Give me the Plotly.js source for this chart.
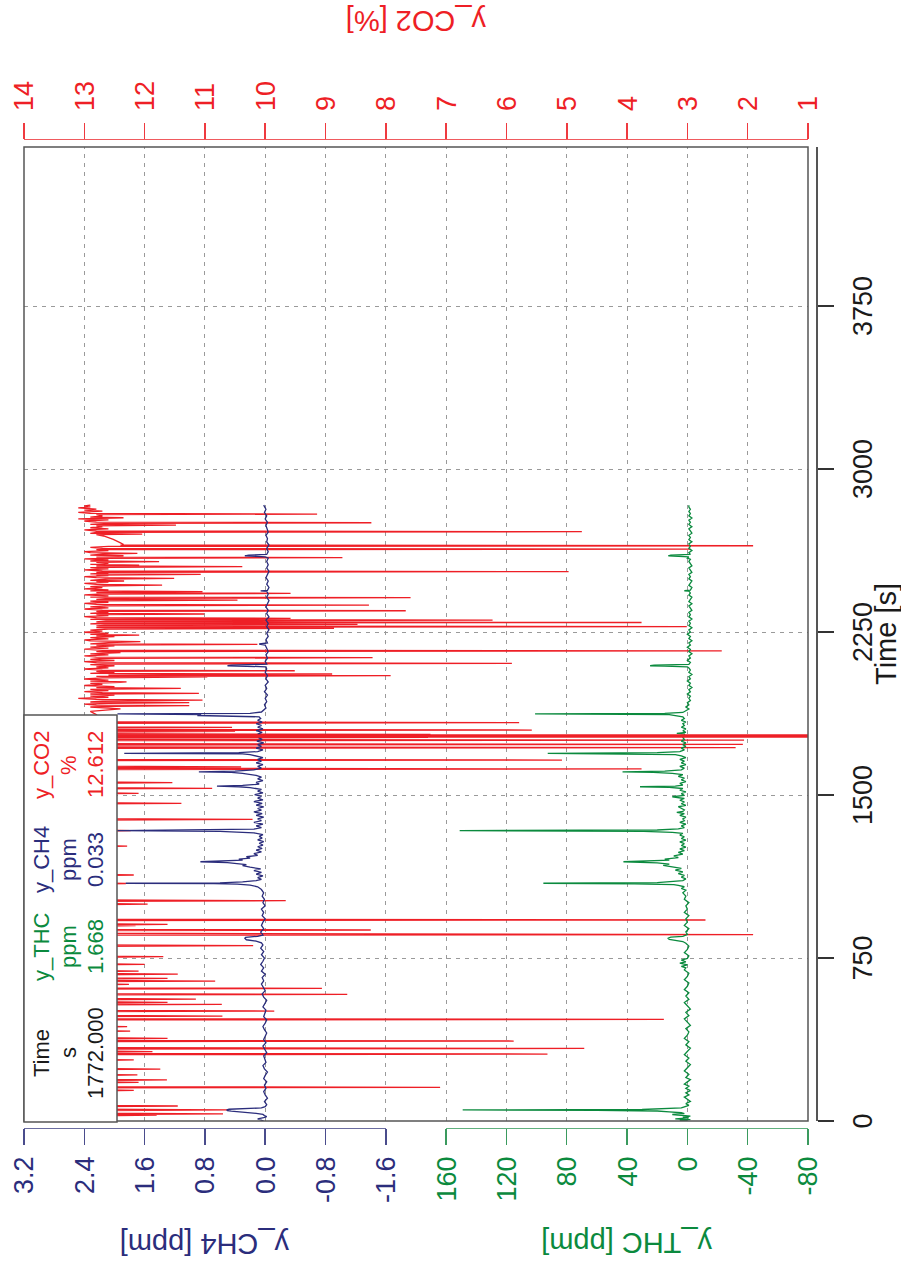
<!DOCTYPE html>
<html><head><meta charset="utf-8">
<script src="https://cdn.plot.ly/plotly-3.0.1.min.js"></script>
<style>
html,body{margin:0;padding:0;width:901px;height:1268px;overflow:hidden;background:#fff;}
#chart{position:absolute;left:0;top:0;width:1268px;height:901px;transform-origin:0 0;transform:translateY(1268px) rotate(-90deg);}
</style></head><body><div id="chart"></div>
<script>
// ---------------- data (time [s], value) ----------------
const co2Points = [[0,12.8],[6,13.0],[12,12.7],[18,12.9],[24,12.8],[27,11.8],[30,12.9],[33,10.7],[36,12.8],[42,12.9],[48,12.7],[51,10.6],[54,12.8],[60,12.9],[66,12.8],[69,11.45],[72,12.9],[80,12.7],[90,12.9],[100,12.8],[110,12.9],[120,12.7],[130,12.8],[138,12.9],[141,12.18],[144,12.8],[152,12.9],[155,7.1],[158,12.8],[166,12.9],[175,12.8],[178,12.1],[181,12.9],[186,12.8],[189,11.63],[192,12.8],[200,12.9],[209,12.8],[212,12.12],[215,12.9],[225,12.7],[236,12.8],[239,11.74],[242,12.9],[255,12.8],[265,12.9],[278,12.8],[281,12.18],[284,12.9],[295,12.8],[305,12.9],[308,5.32],[311,12.8],[316,12.9],[319,11.87],[322,12.8],[331,12.9],[334,4.71],[337,12.8],[350,12.9],[365,12.8],[368,5.88],[371,12.7],[377,12.9],[380,11.62],[383,12.8],[395,12.9],[405,12.7],[411,12.8],[414,12.24],[417,12.9],[425,12.8],[431,12.9],[434,12.29],[437,12.8],[450,12.9],[465,12.8],[468,3.39],[471,12.7],[480,12.9],[483,10.71],[486,12.8],[495,12.9],[503,12.8],[506,9.85],[509,12.9],[520,12.7],[534,12.8],[537,10.72],[540,12.9],[543,12.8],[546,11.62],[549,12.9],[558,12.8],[561,11.15],[564,12.9],[572,12.7],[580,12.8],[583,8.64],[586,12.9],[595,12.8],[607,12.9],[610,9.06],[613,12.8],[620,12.9],[626,12.8],[629,12.26],[632,12.9],[641,12.8],[644,10.83],[647,12.9],[653,12.8],[656,11.62],[659,12.9],[668,12.7],[673,12.8],[676,11.45],[679,12.9],[687,12.8],[690,12.1],[693,12.9],[705,12.8],[718,12.9],[721,12.0],[724,12.8],[740,12.9],[753,12.8],[756,11.69],[759,12.9],[780,12.8],[795,12.9],[804,12.8],[807,10.2],[810,12.9],[825,12.8],[840,12.9],[855,12.8],[858,1.91],[861,6.26],[864,12.8],[873,12.9],[876,12.8],[879,8.25],[882,12.9],[892,12.8],[896,12.9],[899,12.15],[902,12.8],[905,11.62],[908,12.9],[918,12.8],[922,12.9],[925,2.70],[928,12.8],[945,12.9],[960,12.8],[975,12.9],[990,12.8],[995,12.9],[998,11.95],[1001,12.8],[1011,12.9],[1014,9.66],[1017,12.8],[1030,12.9],[1045,12.8],[1060,12.9],[1075,12.8],[1090,12.9],[1093,12.31],[1096,12.8],[1110,12.9],[1125,12.8],[1129,12.9],[1132,12.18],[1135,12.8],[1150,12.9],[1170,12.8],[1190,12.9],[1210,12.8],[1230,12.9],[1250,12.8],[1262,12.9],[1265,12.29],[1268,12.8],[1290,12.9],[1310,12.8],[1333,12.9],[1336,12.23],[1339,12.8],[1360,12.9],[1385,12.8],[1388,10.21],[1391,12.9],[1410,12.8],[1435,12.9],[1459,12.8],[1462,11.39],[1465,12.9],[1485,12.8],[1505,12.9],[1508,12.1],[1511,12.8],[1528,12.9],[1531,10.88],[1534,12.8],[1554,12.9],[1557,11.54],[1560,12.8],[1590,12.9],[1617,12.8],[1620,3.76],[1623,12.9],[1627,12.8],[1630,10.4],[1633,12.9],[1645,12.8],[1658,12.9],[1661,5.08],[1664,12.8],[1690,12.9],[1715,12.8],[1718,2.2],[1721,12.9],[1730,12.8],[1733,2.08],[1736,12.9],[1750,12.8],[1753,2.06],[1756,12.9],[1762,12.8],[1765,7.3],[1768,12.7],[1772,12.612],[1776,12.8],[1779,7.26],[1782,12.9],[1790,12.8],[1793,10.5],[1796,12.9],[1799,5.58],[1802,12.8],[1808,12.9],[1811,10.55],[1814,12.8],[1830,12.9],[1833,5.79],[1836,12.8],[1850,12.9],[1870,12.8],[1885,12.9],[1896,12.4],[1900,12.6],[1905,12.9],[1908,12.5],[1911,11.26],[1914,12.8],[1918,13.0],[1922,12.6],[1925,11.26],[1928,12.9],[1932,12.7],[1937,11.04],[1940,12.8],[1945,13.1],[1950,12.6],[1955,12.9],[1960,12.5],[1965,12.9],[1968,11.1],[1971,12.7],[1976,13.0],[1981,12.6],[1986,12.9],[1991,11.4],[1994,12.8],[1999,12.5],[2004,13.0],[2009,12.7],[2014,12.9],[2018,12.4],[2021,12.3],[2024,12.9],[2029,12.6],[2034,13.0],[2039,12.7],[2044,10.96],[2046,12.8],[2049,7.92],[2052,12.6],[2057,8.89],[2060,12.9],[2065,12.5],[2069,12.8],[2072,9.51],[2075,12.7],[2080,13.0],[2085,12.6],[2090,12.8],[2095,12.5],[2100,12.9],[2103,12.6],[2106,5.91],[2109,12.8],[2114,13.0],[2119,12.5],[2124,12.9],[2129,12.7],[2132,8.22],[2135,12.8],[2140,13.0],[2145,12.6],[2150,12.9],[2155,12.4],[2160,12.8],[2163,2.43],[2166,12.7],[2171,13.0],[2176,12.6],[2181,12.9],[2186,12.5],[2190,12.8],[2193,10.13],[2196,12.9],[2201,12.6],[2206,12.07],[2209,12.9],[2214,13.0],[2219,12.6],[2224,12.9],[2229,12.5],[2233,12.8],[2236,12.09],[2239,12.9],[2244,12.6],[2249,13.0],[2254,12.7],[2259,12.9],[2264,12.6],[2267,8.86],[2270,12.8],[2272,12.7],[2275,3.01],[2278,12.8],[2282,12.6],[2285,8.47],[2288,12.9],[2291,12.7],[2294,3.76],[2297,12.8],[2302,12.6],[2305,6.23],[2308,12.9],[2310,12.7],[2313,9.58],[2316,12.8],[2321,13.0],[2326,12.6],[2330,12.8],[2333,11.01],[2336,12.9],[2341,12.6],[2345,12.8],[2348,7.67],[2351,12.7],[2356,13.0],[2361,12.6],[2366,12.9],[2371,12.6],[2374,8.28],[2377,12.8],[2382,13.0],[2387,12.6],[2392,12.9],[2394,12.7],[2397,10.46],[2400,12.8],[2405,12.6],[2408,7.59],[2411,12.9],[2416,12.6],[2421,13.0],[2425,12.7],[2428,9.58],[2431,12.8],[2433,12.6],[2436,11.04],[2439,12.9],[2444,12.6],[2449,13.0],[2454,12.7],[2459,12.9],[2463,12.6],[2466,11.71],[2469,12.8],[2474,13.0],[2479,12.6],[2482,12.8],[2485,12.34],[2488,12.9],[2494,12.6],[2497,11.51],[2500,12.8],[2505,13.0],[2510,12.6],[2512,12.8],[2515,11.07],[2518,12.9],[2522,12.6],[2525,12.8],[2528,4.97],[2531,12.7],[2536,13.0],[2541,12.6],[2546,12.9],[2548,12.6],[2551,10.38],[2554,12.8],[2558,12.09],[2561,12.9],[2566,12.6],[2571,12.8],[2574,11.76],[2577,12.9],[2582,12.6],[2587,13.0],[2589,12.7],[2592,8.72],[2595,12.8],[2598,12.6],[2601,12.35],[2604,12.9],[2609,12.7],[2612,12.12],[2615,12.9],[2620,13.0],[2625,12.6],[2629,12.8],[2632,2.95],[2635,12.7],[2640,12.9],[2644,12.6],[2647,1.91],[2650,12.4],[2653,12.35],[2660,12.4],[2668,12.45],[2676,12.52],[2684,12.6],[2692,12.68],[2698,12.8],[2701,12.04],[2704,12.9],[2709,12.8],[2712,4.75],[2715,12.8],[2720,13.0],[2725,12.6],[2730,12.9],[2735,12.7],[2739,12.8],[2742,11.48],[2745,12.9],[2750,12.6],[2753,8.24],[2756,12.8],[2761,13.0],[2766,12.6],[2771,13.1],[2776,12.35],[2779,12.9],[2784,12.7],[2790,12.8],[2793,9.14],[2796,12.9],[2801,13.1],[2806,12.7],[2811,13.0],[2816,12.8],[2821,13.1],[2826,12.9],[2830,13.0],[2834,12.9]];

const ch4Points = [[0,0.02],[5,0.05],[10,0.1],[15,0.02],[20,-0.02],[25,0.01],[30,0.03],[35,0.12],[40,0.35],[45,0.45],[48,0.5],[51,0.51],[54,0.48],[57,0.2],[60,0.05],[66,0.0],[75,-0.02],[90,0.01],[105,-0.03],[120,0.0],[135,0.02],[150,-0.01],[165,0.01],[180,-0.02],[195,0.02],[210,0.0],[225,-0.03],[240,0.01],[255,0.03],[270,-0.01],[285,0.0],[300,0.02],[315,-0.02],[330,0.01],[345,0.03],[360,-0.01],[375,0.02],[390,0.0],[405,-0.02],[420,0.01],[435,0.03],[450,0.0],[465,-0.02],[480,0.02],[495,0.0],[510,-0.01],[525,0.03],[540,0.01],[555,-0.02],[570,0.02],[585,0.04],[600,0.0],[615,0.03],[630,0.05],[645,0.02],[660,0.04],[675,0.0],[690,0.05],[705,0.02],[720,0.06],[735,0.03],[750,0.01],[765,0.05],[780,0.02],[795,0.06],[810,0.03],[820,0.05],[828,0.12],[834,0.25],[838,0.27],[841,0.27],[845,0.26],[850,0.1],[856,0.03],[870,0.06],[885,0.02],[900,0.05],[915,0.03],[930,0.0],[945,0.04],[960,0.02],[975,0.05],[990,0.0],[1005,0.03],[1020,0.01],[1035,0.04],[1050,0.02],[1065,0.05],[1078,0.1],[1085,0.2],[1090,0.37],[1092,0.68],[1094,1.85],[1096,0.6],[1100,0.3],[1106,0.12],[1112,0.05],[1120,0.1],[1128,0.03],[1136,0.12],[1144,0.05],[1152,0.15],[1160,0.06],[1168,0.2],[1175,0.3],[1180,0.25],[1185,0.4],[1189,0.5],[1193,0.86],[1196,0.45],[1200,0.3],[1205,0.35],[1210,0.2],[1216,0.25],[1222,0.1],[1230,0.15],[1238,0.05],[1246,0.12],[1254,0.04],[1262,0.1],[1270,0.03],[1278,0.08],[1286,0.02],[1294,0.1],[1302,0.04],[1310,0.08],[1318,0.03],[1326,0.15],[1330,0.59],[1333,0.6],[1336,1.96],[1339,0.55],[1343,0.15],[1350,0.05],[1358,0.12],[1366,0.03],[1374,0.15],[1382,0.05],[1390,0.1],[1398,0.02],[1406,0.12],[1414,0.04],[1422,0.15],[1430,0.05],[1438,0.1],[1446,0.02],[1454,0.12],[1462,0.04],[1470,0.15],[1478,0.03],[1486,0.1],[1494,0.05],[1502,0.14],[1510,0.03],[1518,0.1],[1526,0.05],[1534,0.2],[1538,0.35],[1541,0.64],[1544,0.3],[1550,0.08],[1558,0.12],[1566,0.03],[1574,0.1],[1582,0.05],[1590,0.12],[1596,0.2],[1600,0.3],[1604,0.45],[1607,0.88],[1610,0.4],[1616,0.15],[1624,0.05],[1632,0.1],[1640,0.03],[1648,0.12],[1656,0.05],[1664,0.1],[1672,0.03],[1680,0.12],[1686,0.2],[1689,0.3],[1692,1.87],[1695,0.35],[1700,0.1],[1708,0.03],[1716,0.12],[1724,0.05],[1732,0.1],[1740,0.02],[1748,0.11],[1756,0.04],[1764,0.09],[1772,0.033],[1780,0.1],[1788,0.04],[1796,0.12],[1804,0.03],[1812,0.1],[1820,0.05],[1828,0.12],[1836,0.04],[1844,0.1],[1852,0.06],[1860,0.08],[1866,0.9],[1870,0.85],[1873,1.96],[1876,0.2],[1882,0.05],[1890,0.02],[1900,-0.01],[1915,0.01],[1930,-0.02],[1945,0.0],[1960,-0.03],[1975,0.01],[1990,-0.02],[2005,0.0],[2020,-0.04],[2035,-0.01],[2050,-0.03],[2065,0.0],[2080,-0.02],[2090,-0.01],[2093,0.3],[2095,0.5],[2098,0.45],[2102,-0.02],[2115,0.0],[2130,-0.03],[2145,-0.01],[2160,-0.04],[2175,-0.02],[2190,0.0],[2195,0.08],[2200,-0.03],[2215,-0.01],[2230,-0.04],[2245,-0.02],[2260,-0.05],[2275,-0.02],[2290,-0.04],[2305,-0.01],[2320,-0.05],[2335,-0.02],[2350,-0.04],[2365,-0.01],[2380,-0.03],[2395,-0.05],[2410,-0.02],[2425,-0.04],[2437,-0.02],[2439,0.06],[2442,-0.03],[2455,-0.05],[2470,-0.02],[2485,-0.04],[2500,-0.01],[2515,-0.03],[2530,-0.05],[2545,-0.02],[2560,-0.04],[2575,-0.02],[2590,-0.04],[2596,0.0],[2599,0.2],[2601,0.27],[2604,0.22],[2607,-0.02],[2620,-0.04],[2635,-0.02],[2650,-0.05],[2665,-0.02],[2680,-0.03],[2695,-0.01],[2710,-0.04],[2725,-0.02],[2740,-0.01],[2755,-0.03],[2770,0.0],[2785,-0.02],[2800,0.01],[2815,-0.01],[2834,0.02]];

const thcPoints = [[0,0],[3,5],[6,-2],[10,8],[14,-1],[18,3],[22,-2],[26,6],[30,10],[34,2],[38,4],[42,12],[46,20],[49,60],[51,149],[53,30],[56,10],[60,4],[65,2],[72,-1],[80,1],[90,-2],[100,0],[110,2],[120,-1],[130,1],[140,-2],[150,1],[160,-1],[170,2],[180,0],[190,-2],[200,1],[215,-1],[230,2],[245,0],[260,-2],[275,1],[290,-1],[305,2],[320,0],[335,-2],[350,1],[365,-1],[380,2],[395,0],[410,-1],[425,1],[440,-2],[455,0],[470,2],[485,-1],[500,1],[515,-2],[530,0],[545,2],[560,-1],[575,1],[590,-1],[605,2],[620,0],[635,-1],[650,2],[665,0],[680,-1],[695,2],[705,1],[712,4],[718,0],[726,5],[732,1],[740,4],[748,0],[760,-1],[775,2],[790,0],[805,-1],[818,1],[826,3],[832,8],[836,12],[841,13],[846,11],[850,3],[858,0],[870,1],[885,-1],[900,2],[915,0],[930,1],[945,-1],[960,2],[975,0],[990,1],[1005,-1],[1020,2],[1035,1],[1050,3],[1062,1],[1070,4],[1078,2],[1084,6],[1088,9],[1091,35],[1094,95.5],[1097,20],[1101,8],[1106,3],[1114,1],[1122,4],[1130,2],[1138,6],[1146,3],[1154,8],[1162,4],[1170,10],[1176,16],[1182,12],[1188,20],[1193,42.4],[1196,18],[1200,12],[1205,15],[1212,6],[1220,9],[1228,3],[1236,6],[1244,2],[1252,5],[1260,1],[1268,4],[1276,2],[1284,5],[1292,1],[1300,4],[1308,2],[1316,5],[1324,3],[1328,10],[1333,29],[1336,151],[1339,20],[1344,6],[1350,2],[1358,4],[1366,1],[1374,5],[1382,2],[1390,3],[1398,1],[1406,5],[1414,2],[1420,7],[1425,3],[1432,2],[1440,5],[1446,6],[1452,1],[1460,4],[1468,2],[1476,5],[1484,2],[1492,10],[1498,2],[1506,4],[1514,1],[1522,5],[1530,3],[1535,12],[1538,31.4],[1541,8],[1546,3],[1554,5],[1562,1],[1570,4],[1578,2],[1586,6],[1594,3],[1600,10],[1604,22.6],[1607,43],[1610,15],[1616,4],[1624,2],[1632,5],[1640,1],[1648,4],[1656,2],[1664,5],[1672,1],[1680,4],[1686,8],[1689,56.8],[1692,92.6],[1695,20],[1700,5],[1708,2],[1716,4],[1724,1],[1732,3],[1740,1],[1748,4],[1756,2],[1764,3],[1772,1.668],[1780,2],[1784,7],[1788,1],[1796,3],[1804,1],[1812,4],[1820,2],[1828,3],[1836,1],[1844,4],[1852,2],[1860,3],[1866,8],[1870,12],[1873,101],[1876,15],[1880,3],[1888,1],[1896,-1],[1905,1],[1915,-1],[1925,0],[1935,-2],[1945,-1],[1955,-2],[1965,0],[1975,-2],[1985,-1],[1995,-3],[2005,-1],[2015,-2],[2025,0],[2035,-2],[2045,-1],[2055,-3],[2065,-1],[2075,-2],[2085,-1],[2090,0],[2093,15],[2095,24.7],[2098,22],[2101,-1],[2110,-2],[2120,0],[2130,-2],[2140,-1],[2150,-3],[2160,-1],[2170,-2],[2180,0],[2190,-2],[2200,-1],[2210,-3],[2220,-1],[2230,-2],[2240,0],[2250,-2],[2260,-1],[2270,-3],[2280,-1],[2290,-2],[2300,-1],[2310,-3],[2320,-1],[2330,-2],[2340,-1],[2350,-3],[2360,-2],[2370,-1],[2380,-3],[2390,-1],[2400,-2],[2410,-3],[2420,-1],[2430,-2],[2438,-1],[2440,2],[2443,-2],[2455,-3],[2465,-1],[2475,-2],[2485,-3],[2495,-1],[2505,-2],[2515,-1],[2525,-3],[2535,-2],[2545,-1],[2555,-3],[2565,-2],[2575,-1],[2585,-2],[2590,0],[2596,-1],[2599,10],[2601,12.6],[2604,11],[2607,-2],[2615,-1],[2625,-3],[2635,-1],[2645,-2],[2655,-1],[2665,-3],[2675,-1],[2685,-2],[2695,-1],[2705,-3],[2715,-2],[2725,-1],[2735,-3],[2745,-1],[2755,-2],[2765,-1],[2775,-3],[2785,-1],[2795,-2],[2805,-1],[2815,-2],[2825,-1],[2834,-1]];

// axes ticks
const timeTicks = [0, 750, 1500, 2250, 3000, 3750];
const co2Ticks = [1,2,3,4,5,6,7,8,9,10,11,12,13,14];
const ch4Ticks = [-1.6,-0.8,0,0.8,1.6,2.4,3.2];
const ch4TickText = ['-1.6','-0.8','0.0','0.8','1.6','2.4','3.2'];
const thcTicks = [-80,-40,0,40,80,120,160];
const thcTickText = ['-80','-40','0','40','80','120','160'];

// cursor readout
const cursorTime = 1772.000;
const legendHeaders = ['Time','y_THC','y_CH4','y_CO2'];
const legendUnits = ['s','ppm','ppm','%'];
const legendValues = [1772.000, 1.668, 0.033, 12.612];

// ---------------- styling ----------------
const FONT = '"Liberation Sans", Arial, Helvetica, sans-serif';
const RED = '#ee1f26', NAVY = '#2b2d7c', GREEN = '#0b8a3e', BLACK = '#1a1a1a';
const legendColors = [BLACK, GREEN, NAVY, RED];
// paper box in landscape pixels
const L = 139, R = 1128, T = 24, B = 816;
const px = X => (X - L) / (R - L);
const py = Y => (B - Y) / (B - T);

const traces = [
  {x: thcPoints.map(p => p[0]), y: thcPoints.map(p => p[1]), xaxis: 'x2', yaxis: 'y2',
   mode: 'lines', line: {color: GREEN, width: 1.3}, hoverinfo: 'skip'},
  {x: ch4Points.map(p => p[0]), y: ch4Points.map(p => p[1]), xaxis: 'x2', yaxis: 'y',
   mode: 'lines', line: {color: NAVY, width: 1.3}, hoverinfo: 'skip'},
  {x: co2Points.map(p => p[0]), y: co2Points.map(p => p[1]), xaxis: 'x', yaxis: 'y3',
   mode: 'lines', line: {color: RED, width: 1.3}, hoverinfo: 'skip'}
];

const gridDash = '4px,5px';
const layout = {
  width: 1268, height: 901,
  margin: {l: L, r: 1268 - R, t: T, b: 901 - B, pad: 0},
  paper_bgcolor: '#ffffff', plot_bgcolor: 'rgba(0,0,0,0)',
  showlegend: false, hovermode: false,
  font: {family: FONT, size: 27, color: BLACK},
  xaxis: {domain: [px(147), px(1121)], range: [0, 4482], anchor: 'free', position: 0,
    tickvals: timeTicks, ticks: 'outside', ticklen: 16, tickwidth: 1.5, tickcolor: '#333',
    showline: true, linecolor: '#555', linewidth: 1.5, zeroline: false,
    showgrid: true, gridcolor: '#9a9a9a', gridwidth: 1, griddash: gridDash,
    tickfont: {family: FONT, size: 27, color: BLACK}, ticklabelstandoff: 6},
  xaxis2: {overlaying: 'x', matches: 'x', visible: false},
  yaxis: {domain: [py(385.8), 1], range: [-1.6, 3.2], anchor: 'free', position: 0, side: 'left',
    tickvals: ch4Ticks, ticktext: ch4TickText, ticks: 'outside', ticklen: 16, tickwidth: 1.5,
    tickcolor: '#4a4c8c', showline: true, linecolor: '#6a6ca0', linewidth: 1.5,
    showgrid: false, zeroline: false, tickfont: {family: FONT, size: 27, color: NAVY}, ticklabelstandoff: 6},
  yaxis2: {domain: [py(808), py(446.1)], range: [-80, 160], anchor: 'free', position: 0, side: 'left',
    tickvals: thcTicks, ticktext: thcTickText, ticks: 'outside', ticklen: 16, tickwidth: 1.5,
    tickcolor: '#3a9a5e', showline: true, linecolor: '#5fb07e', linewidth: 1.5,
    showgrid: false, zeroline: false, tickfont: {family: FONT, size: 27, color: GREEN}, ticklabelstandoff: 6},
  yaxis3: {domain: [py(808), 1], range: [1, 14], anchor: 'free', position: 1, side: 'right',
    tickvals: co2Ticks, ticks: 'outside', ticklen: 16, tickwidth: 1.5, tickcolor: '#ef3a40',
    showline: true, linecolor: '#f05a5e', linewidth: 1.5, zeroline: false,
    showgrid: true, gridcolor: '#9a9a9a', gridwidth: 1, griddash: gridDash,
    tickfont: {family: FONT, size: 27, color: RED}, ticklabelstandoff: 6},
  shapes: [
    {type: 'line', xref: 'x', yref: 'paper', x0: cursorTime, x1: cursorTime, y0: py(808), y1: 1,
     line: {color: RED, width: 3.5}, layer: 'above'},
    {type: 'rect', xref: 'paper', yref: 'paper', x0: px(147), x1: px(1121), y0: py(808), y1: 1,
     line: {color: '#555', width: 1.5}, fillcolor: 'rgba(0,0,0,0)', layer: 'above'},
    {type: 'rect', xref: 'paper', yref: 'paper', x0: px(146), x1: px(553), y0: py(117), y1: 1,
     line: {color: '#555', width: 1.5}, fillcolor: '#ffffff', layer: 'above'}
  ],
  annotations: []
};

// cursor readout table
const colX = [215, 321, 408, 503];
const rowY = [42, 69, 95];
legendHeaders.forEach((h, i) => {
  const rows = [h, legendUnits[i], legendValues[i].toFixed(3)];
  rows.forEach((txt, j) => {
    layout.annotations.push({xref: 'paper', yref: 'paper', x: px(colX[i]), y: py(rowY[j]),
      xanchor: 'center', yanchor: 'middle', showarrow: false, text: txt,
      font: {family: FONT, size: 22, color: legendColors[i]}});
  });
});

// axis titles
layout.annotations.push(
  {xref: 'paper', yref: 'paper', x: px(634), y: py(886), xanchor: 'center', yanchor: 'middle',
   showarrow: false, text: 'Time [s]', font: {family: FONT, size: 29, color: BLACK}},
  {xref: 'paper', yref: 'paper', x: px(24), y: py(205), xanchor: 'center', yanchor: 'middle',
   showarrow: false, textangle: -90, text: 'y_CH4 [ppm]', font: {family: FONT, size: 29, color: NAVY}},
  {xref: 'paper', yref: 'paper', x: px(25), y: py(627), xanchor: 'center', yanchor: 'middle',
   showarrow: false, textangle: -90, text: 'y_THC [ppm]', font: {family: FONT, size: 29, color: GREEN}},
  {xref: 'paper', yref: 'paper', x: px(1247), y: py(416), xanchor: 'center', yanchor: 'middle',
   showarrow: false, textangle: -90, text: 'y_CO2 [%]', font: {family: FONT, size: 29, color: RED}}
);

Plotly.newPlot('chart', traces, layout, {staticPlot: true, displayModeBar: false});
</script></body></html>
